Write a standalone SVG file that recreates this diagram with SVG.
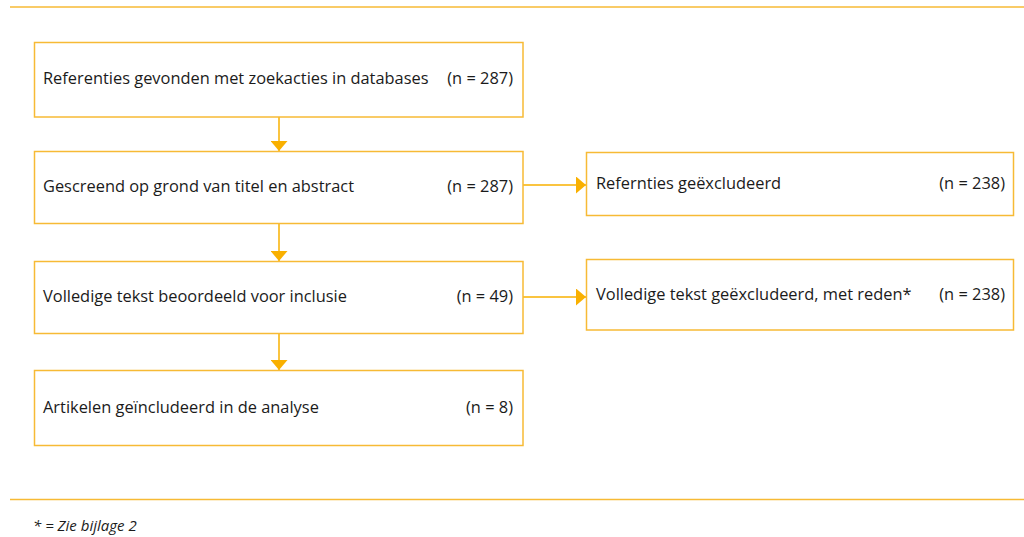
<svg xmlns="http://www.w3.org/2000/svg" width="1024" height="537" viewBox="0 0 1024 537">
<style>
.box{fill:#fff;stroke:#F7BA35;stroke-width:1.5}
.rule{stroke:#F7BA35;stroke-width:1.5}
.con{stroke:#F9B000;stroke-width:1.5;fill:none}
.t{font-family:"Open Sans","Noto Sans",sans-serif;font-size:16.4px;fill:#1b1b1b}
.n{text-anchor:end}
.fn{font-family:"Open Sans","Noto Sans",sans-serif;font-size:15px;font-style:italic;fill:#1b1b1b}
</style>
<defs>
<marker id="ah" viewBox="0 0 10 17" refX="10" refY="8.5" markerWidth="10" markerHeight="17" markerUnits="userSpaceOnUse" orient="auto">
<path d="M0,0 L10,8.5 L0,17 Z" fill="#F9B000"/>
</marker>
</defs>
<rect width="1024" height="537" fill="#fff"/>
<line class="rule" x1="10" y1="7" x2="1024" y2="7"/>
<line class="rule" x1="10" y1="499.5" x2="1024" y2="499.5"/>
<g id="connectors">
<line class="con" x1="279" y1="117" x2="279" y2="151" marker-end="url(#ah)"/>
<line class="con" x1="279" y1="224" x2="279" y2="261" marker-end="url(#ah)"/>
<line class="con" x1="279" y1="334" x2="279" y2="370" marker-end="url(#ah)"/>
<line class="con" x1="523" y1="185" x2="586" y2="185" marker-end="url(#ah)"/>
<line class="con" x1="523" y1="297" x2="586" y2="297" marker-end="url(#ah)"/>
</g>
<g id="node1">
<rect class="box" x="34.5" y="42.5" width="488.5" height="74.5"/>
<text class="t" x="43" y="84">Referenties gevonden met zoekacties in databases</text>
<text class="t n" x="513" y="84">(n = 287)</text>
</g>
<g id="node2">
<rect class="box" x="34.5" y="151.5" width="488.5" height="72"/>
<text class="t" x="43" y="192">Gescreend op grond van titel en abstract</text>
<text class="t n" x="513" y="192">(n = 287)</text>
</g>
<g id="node3">
<rect class="box" x="34.5" y="261.5" width="488.5" height="72"/>
<text class="t" x="43" y="302">Volledige tekst beoordeeld voor inclusie</text>
<text class="t n" x="513" y="302">(n = 49)</text>
</g>
<g id="node4">
<rect class="box" x="34.5" y="370.5" width="488.5" height="75"/>
<text class="t" x="43" y="413">Artikelen geïncludeerd in de analyse</text>
<text class="t n" x="513" y="413">(n = 8)</text>
</g>
<g id="node5">
<rect class="box" x="586.5" y="152.5" width="427" height="63"/>
<text class="t" x="596" y="189">Refernties geëxcludeerd</text>
<text class="t n" x="1005" y="189">(n = 238)</text>
</g>
<g id="node6">
<rect class="box" x="586.5" y="259.5" width="427" height="70.5"/>
<text class="t" x="596" y="300">Volledige tekst geëxcludeerd, met reden*</text>
<text class="t n" x="1005" y="300">(n = 238)</text>
</g>
<text class="fn" x="33" y="531">* = Zie bijlage 2</text>
</svg>
